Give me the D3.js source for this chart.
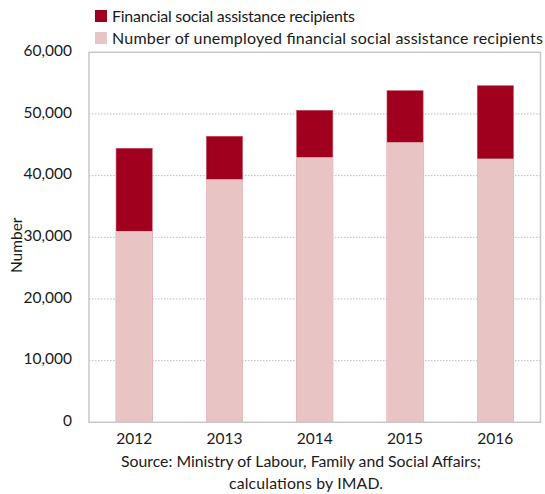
<!DOCTYPE html>
<html>
<head>
<meta charset="utf-8">
<script src="https://cdn.jsdelivr.net/npm/d3@7"></script>
<style>
  html, body { margin: 0; padding: 0; background: #fff; }
  text { font-family: Lato, "Open Sans", sans-serif; fill: #1a1a1a; }
</style>
</head>
<body>
<svg id="chart" width="545" height="494"></svg>
<script>
const years = ["2012", "2013", "2014", "2015", "2016"];
const recipients = [44430, 46380, 50590, 53770, 54580];
const unemployed = [30970, 39340, 42910, 45340, 42700];
const yTicks = [0, 10000, 20000, 30000, 40000, 50000, 60000];
const seriesNames = ["Financial social assistance recipients", "Number of unemployed financial social assistance recipients"];
const seriesColors = ["#a0001e", "#e9c4c4"];

const svg = d3.select("#chart");
const margin = { left: 89, right: 4.5, top: 52.3, bottom: 71.7 };
const W = 545, H = 494;

const x = d3.scaleBand().domain(years).range([margin.left, W - margin.right]).paddingInner(0.6).paddingOuter(0.3);
const y = d3.scaleLinear().domain([0, 60000]).range([H - margin.bottom, margin.top]);

// gridlines
svg.append("g").selectAll("line").data(yTicks.filter(d => d > 0 && d < 60000)).join("line")
  .attr("x1", margin.left).attr("x2", W - margin.right)
  .attr("y1", d => y(d)).attr("y2", d => y(d))
  .attr("stroke", "#bdbdbd").attr("stroke-width", 1).attr("stroke-dasharray", "1.5,1.5");

// bars: total recipients behind, unemployed in front
svg.append("g").selectAll("rect").data(years).join("rect")
  .attr("x", d => x(d)).attr("width", x.bandwidth())
  .attr("y", (d, i) => y(recipients[i])).attr("height", (d, i) => y(0) - y(recipients[i]))
  .attr("fill", seriesColors[0]).attr("stroke", "#c04a5e").attr("stroke-width", 0.6);
svg.append("g").selectAll("rect").data(years).join("rect")
  .attr("x", d => x(d)).attr("width", x.bandwidth())
  .attr("y", (d, i) => y(unemployed[i])).attr("height", (d, i) => y(0) - y(unemployed[i]))
  .attr("fill", seriesColors[1]).attr("stroke", "#f0d6d6").attr("stroke-width", 0.6);

// frame
svg.append("rect").attr("x", margin.left).attr("y", margin.top)
  .attr("width", W - margin.right - margin.left).attr("height", y(0) - margin.top)
  .attr("fill", "none").attr("stroke", "#c8c8c8").attr("stroke-width", 1.5);

// y axis labels
const yAxis = d3.axisLeft(y).tickValues(yTicks).tickSize(0).tickPadding(0)
  .tickFormat(d3.format(","));
const ya = svg.append("g").attr("transform", `translate(${margin.left - 17},0)`).call(yAxis);
ya.select(".domain").remove();
ya.selectAll("text").attr("font-size", 15.5).attr("font-family", "Lato, sans-serif").attr("fill", "#1a1a1a").attr("dy", "0.2em");

// x axis labels
const xAxis = d3.axisBottom(x).tickSize(0).tickPadding(0);
const xa = svg.append("g").attr("transform", `translate(0,${y(0) + 11})`).call(xAxis);
xa.select(".domain").remove();
xa.selectAll("text").attr("font-size", 15.5).attr("font-family", "Lato, sans-serif").attr("fill", "#1a1a1a").attr("dy", "0.7em");

// y title
svg.append("text").attr("transform", `translate(22,${(margin.top + y(0)) / 2 + 8}) rotate(-90)`)
  .attr("text-anchor", "middle").attr("font-size", 15.5).text("Number");

// legend
const legendLens = [243, 431];
const lg = svg.append("g");
seriesNames.forEach((name, i) => {
  const yy = 10 + i * 22;
  lg.append("rect").attr("x", 95).attr("y", yy).attr("width", 12).attr("height", 12).attr("fill", seriesColors[i]);
  lg.append("text").attr("x", 112).attr("y", yy + 11.5).attr("font-size", 16)
    .attr("textLength", legendLens[i]).attr("lengthAdjust", "spacing").text(name);
});

// source
svg.append("text").attr("x", 301).attr("y", 467).attr("text-anchor", "middle").attr("font-size", 15.8)
  .attr("textLength", 360).attr("lengthAdjust", "spacing")
  .text("Source: Ministry of Labour, Family and Social Affairs;");
svg.append("text").attr("x", 306).attr("y", 489).attr("text-anchor", "middle").attr("font-size", 15.8)
  .attr("textLength", 154).attr("lengthAdjust", "spacing")
  .text("calculations by IMAD.");
</script>
</body>
</html>
